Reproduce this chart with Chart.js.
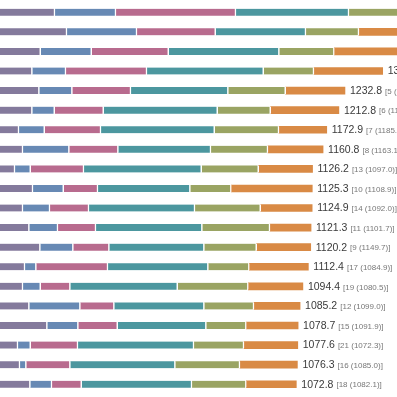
<!DOCTYPE html>
<html>
<head>
<meta charset="utf-8">
<script src="https://cdn.jsdelivr.net/npm/chart.js@4"></script>
<style>
  html, body { margin: 0; padding: 0; background: #ffffff; }
  #wrap { width: 397px; height: 397px; position: relative; }
</style>
</head>
<body>
<div id="wrap"><canvas id="c"></canvas></div>
<script>
// Categories (row labels are outside the visible crop)
const categories = ["R1","R2","R3","R4","R5","R6","R7","R8","R9","R10",
                    "R11","R12","R13","R14","R15","R16","R17","R18","R19","R20"];

// Six stacked components per row
const seriesA = [278.9, 318.4, 231.9, 204.3, 227.3, 204.3, 160.5, 173.7, 147.4, 206.6,
                 173.7, 194.4, 230.6, 180.3, 173.7, 194.4, 253.6, 157.2, 163.8, 197.7];
const seriesB = [200.7, 230.3, 167.8, 110.8, 108.6, 73.7, 84.6, 152.3, 51.6, 101.0,
                 88.8, 94.4, 108.5, 37.1, 58.2, 167.8, 102.0, 41.8, 20.7, 71.4];
const seriesC = [394.7, 258.9, 253.3, 266.5, 193.0, 161.1, 185.2, 161.2, 175.3, 112.8,
                 128.3, 125.0, 118.5, 235.9, 97.4, 111.8, 129.6, 155.6, 144.8, 97.7];
const seriesD = [371.8, 297.0, 363.8, 383.9, 320.1, 375.0, 374.0, 304.9, 387.2, 303.6,
                 348.7, 349.7, 312.5, 329.9, 353.3, 296.1, 291.4, 381.6, 345.4, 362.8];
const seriesE = [175.0, 174.3, 180.9, 165.4, 188.8, 174.4, 211.5, 187.5, 187.5, 134.9,
                 216.1, 222.7, 172.3, 134.9, 232.2, 163.5, 131.6, 164.5, 212.8, 178.6];
const seriesF = [190.0, 167.8, 216.1, 226.0, 195.0, 224.3, 157.1, 181.2, 177.2, 266.4,
                 169.3, 135.1, 177.8, 194.3, 179.6, 151.6, 170.5, 176.9, 188.8, 164.6];

// Label texts shown at the end of each bar
const totals    = ["1611.1","1446.7","1413.8","1356.9","1232.8","1212.8","1172.9","1160.8","1126.2","1125.3",
                   "1124.9","1121.3","1120.2","1112.4","1094.4","1085.2","1078.7","1077.6","1076.3","1072.8"];
const prevRank  = ["1","2","3","4","5","6","7","8","13","10","14","11","9","17","19","12","15","21","16","18"];
const prevScore = ["1598.4","1430.2","1402.6","1344.0","1224.6","1197.3","1185.4","1163.1","1097.0","1108.9",
                   "1092.0","1101.7","1149.7","1084.9","1080.5","1099.0","1091.9","1072.3","1085.0","1082.1"];

const seriesNames  = ["A","B","C","D","E","F"];
const seriesData   = [seriesA, seriesB, seriesC, seriesD, seriesE, seriesF];
const seriesColors = ["#847a9c", "#6789b4", "#b86b8e", "#4c979f", "#9aa463", "#d98a45"];

const datasets = seriesData.map((d, i) => ({
  label: seriesNames[i],
  data: d,
  backgroundColor: seriesColors[i],
  borderColor: "#ffffff",
  borderWidth: i < seriesData.length - 1 ? {top: 0, right: 1.5, bottom: 0, left: 0} : 0,
  borderSkipped: false,
  barThickness: 7,
  stack: "s"
}));

const endLabels = {
  id: "endLabels",
  afterDatasetsDraw(chart) {
    const ctx = chart.ctx;
    const meta = chart.getDatasetMeta(chart.data.datasets.length - 1);
    ctx.save();
    ctx.textBaseline = "middle";
    meta.data.forEach((bar, i) => {
      const x = bar.x + 5;
      const y = bar.y + 0.5;
      ctx.font = "10.5px 'Liberation Sans', Arial, sans-serif";
      ctx.fillStyle = "#3a3a3a";
      ctx.fillText(totals[i], x, y);
      const w = ctx.measureText(totals[i]).width;
      ctx.font = "8px 'Liberation Sans', Arial, sans-serif";
      ctx.fillStyle = "#777777";
      ctx.fillText("[" + prevRank[i] + " (" + prevScore[i] + ")]", x + w + 3, y + 0.5);
    });
    ctx.restore();
  }
};

new Chart(document.getElementById("c"), {
  type: "bar",
  data: { labels: categories, datasets: datasets },
  options: {
    indexAxis: "y",
    responsive: true,
    maintainAspectRatio: false,
    animation: false,
    events: [],
    layout: { padding: { top: 2.5, bottom: 3, left: 0, right: 0 } },
    plugins: { legend: { display: false }, tooltip: { enabled: false } },
    scales: {
      x: { stacked: true, display: false, min: 98, max: 1404 },
      y: { stacked: true, display: false }
    }
  },
  plugins: [endLabels]
});
</script>
</body>
</html>
